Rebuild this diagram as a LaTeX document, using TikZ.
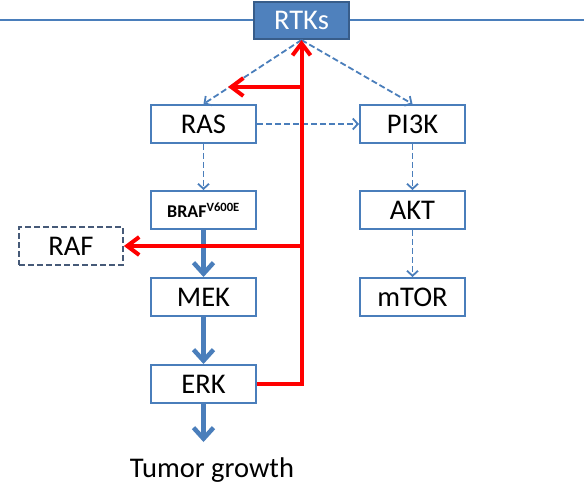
\documentclass[tikz,border=0pt]{standalone}
\usepackage{fontspec}
\setmainfont{Carlito}
\usetikzlibrary{positioning,arrows.meta}
\definecolor{boxblue}{RGB}{74,126,187}
\definecolor{rtkfill}{RGB}{79,129,189}
\definecolor{rtkdraw}{RGB}{56,93,138}
\definecolor{rafdraw}{RGB}{70,90,120}

\begin{document}
\begin{tikzpicture}[x=1pt, y=1pt, node distance={46pt and 102pt},
	main/.style={draw=boxblue, line width=2pt, minimum width=105pt, minimum height=38pt, inner sep=0pt, font=\fontsize{28.5}{30}\selectfont},
	dasharrow/.style={boxblue, line width=1.8pt, dash pattern=on 6pt off 3pt, -{Straight Barb[length=5pt,width=11pt]}},
	bluearrow/.style={boxblue, line width=4.5pt, -{Straight Barb[length=11pt,width=20pt]}},
	redarrow/.style={red, line width=4pt, -{Straight Barb[length=12pt,width=18pt]}}]
		\useasboundingbox (0,0) rectangle (584,-484);
		\draw[boxblue, line width=1.5pt] (0,-20) -- (584,-20);

		\node[main, fill=rtkfill, draw=rtkdraw, text=white, minimum width=95pt, minimum height=37pt] (rtk) at (301.5,-20.5) {RTKs};
		\node[main] (ras) at (203.5,-124) {RAS};
		\node[main] (pi3k) [right=102pt of ras] {PI3K};
		\node[main, font=\fontsize{18}{20}\selectfont\bfseries] (braf) [below=46pt of ras] {BRAF\textsuperscript{V600E}};
		\node[main] (mek) [below=47pt of braf] {MEK};
		\node[main] (erk) [below=47pt of mek] {ERK};
		\node[main] (akt) [below=46pt of pi3k] {AKT};
		\node[main] (mtor) [below=47pt of akt] {mTOR};
		\node[main, draw=rafdraw, line width=1.8pt, dash pattern=on 6pt off 3pt, minimum width=104pt] (raf) at (71,-246) {RAF};
		\node[font=\fontsize{28.5}{30}\selectfont, anchor=base, inner sep=0pt] (growth) at (212,-477) {Tumor growth};
		\coordinate (growth tip) at (203.5,-442);
		\coordinate (split) at (302,-87);
		\coordinate (ras tip) at (228,-87);

		\draw[dasharrow] (rtk.south) to (ras.north);
		\draw[dasharrow] (rtk.south) to (pi3k.north);
		\draw[dasharrow] (ras) to (pi3k);
		\draw[dasharrow] (ras) to (braf);
		\draw[dasharrow] (pi3k) to (akt);
		\draw[dasharrow] (akt) to (mtor);

		\draw[bluearrow] (braf) to (mek);
		\draw[bluearrow] (mek) to (erk);
		\draw[bluearrow] (erk) to (growth tip);

		\draw[redarrow] (erk.east) -| (rtk.south);
		\draw[redarrow] (split) to (ras tip);
		\draw[redarrow] (rtk.south |- raf.east) to (raf.east);
	\end{tikzpicture}
\end{document}
